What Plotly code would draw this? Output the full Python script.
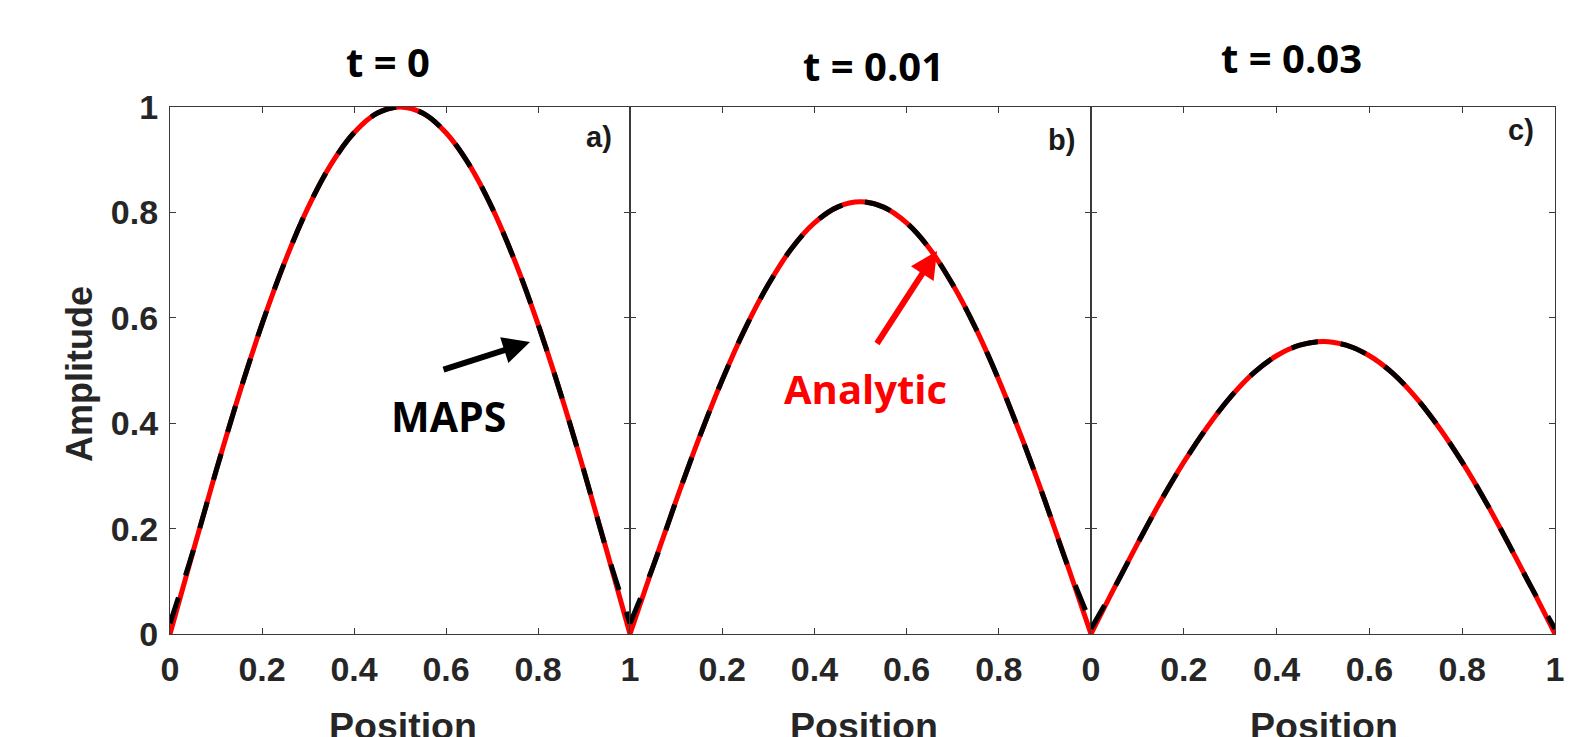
import plotly.graph_objects as go

# ---- data ----
position = [0.0, 0.05, 0.10, 0.15, 0.20, 0.25, 0.30, 0.35, 0.40, 0.45, 0.50,
            0.55, 0.60, 0.65, 0.70, 0.75, 0.80, 0.85, 0.90, 0.95, 1.0]
analytic_t0 = [0.0, 0.156, 0.309, 0.454, 0.588, 0.707, 0.809, 0.891, 0.951, 0.988, 1.0,
               0.988, 0.951, 0.891, 0.809, 0.707, 0.588, 0.454, 0.309, 0.156, 0.0]
maps_t0 = [0.02, 0.157, 0.309, 0.454, 0.588, 0.707, 0.809, 0.891, 0.951, 0.988, 1.0,
           0.988, 0.951, 0.891, 0.809, 0.707, 0.588, 0.454, 0.309, 0.156, 0.02]
analytic_t001 = [0.0, 0.128, 0.253, 0.372, 0.482, 0.580, 0.663, 0.731, 0.780, 0.810, 0.820,
                 0.810, 0.780, 0.731, 0.663, 0.580, 0.482, 0.372, 0.253, 0.128, 0.0]
maps_t001 = [0.02, 0.128, 0.253, 0.372, 0.482, 0.580, 0.663, 0.731, 0.780, 0.810, 0.820,
             0.810, 0.780, 0.731, 0.663, 0.580, 0.482, 0.372, 0.253, 0.128, 0.02]
analytic_t003 = [0.0, 0.087, 0.171, 0.252, 0.326, 0.392, 0.449, 0.495, 0.528, 0.548, 0.555,
                 0.548, 0.528, 0.495, 0.449, 0.392, 0.326, 0.252, 0.171, 0.087, 0.0]
maps_t003 = [0.01, 0.087, 0.171, 0.252, 0.326, 0.392, 0.449, 0.495, 0.528, 0.548, 0.555,
             0.548, 0.528, 0.495, 0.449, 0.392, 0.326, 0.252, 0.171, 0.087, 0.01]

panel_titles = ["t = 0", "t = 0.01", "t = 0.03"]
panel_tags = ["a)", "b)", "c)"]
x_ticks_full = [0, 0.2, 0.4, 0.6, 0.8, 1]
x_ticks_mid = [0.2, 0.4, 0.6, 0.8]
y_ticks = [0, 0.2, 0.4, 0.6, 0.8, 1]

# ---- layout geometry (page body adds an 8px offset) ----
OFF = 8
W, H = 1575 - OFF, 737 - OFF
# target plot area in screen pixels
SL, SR, ST, SB = 170, 1555, 107, 634
ML, MT = SL - OFF, ST - OFF
MR = W - (SR - OFF)
MB = H - (SB - OFF)
PW = SR - SL
PH = SB - ST
edges = [170, 630, 1091, 1555]
domains = [[(edges[i] - SL) / PW, (edges[i + 1] - SL) / PW] for i in range(3)]
domains[-1][1] = 1.0

def px2paper(px, py):
    return (px - SL) / PW, (SB - py) / PH

fig = go.Figure()
series = [(analytic_t0, maps_t0), (analytic_t001, maps_t001), (analytic_t003, maps_t003)]
for i, (an, mp) in enumerate(series):
    xa = "x" if i == 0 else f"x{i+1}"
    ya = "y" if i == 0 else f"y{i+1}"
    fig.add_trace(go.Scatter(x=position, y=an, mode="lines", xaxis=xa, yaxis=ya,
                             line=dict(color="#ff0000", width=5, shape="spline"),
                             showlegend=False, name="Analytic"))
    fig.add_trace(go.Scatter(x=position, y=mp, mode="lines", xaxis=xa, yaxis=ya,
                             line=dict(color="#000000", width=5, dash="27px,23px", shape="spline"),
                             showlegend=False, name="MAPS"))

tickfont = dict(family="Liberation Sans, Arial, sans-serif", size=34, color="#262626", weight="bold")
axis_common = dict(range=[0, 1], showline=True, linecolor="#3a3a3a", linewidth=1.3, mirror="ticks",
                   ticks="inside", ticklen=6, tickcolor="#3a3a3a", tickwidth=1, automargin=False,
                   showgrid=False, zeroline=False, tickfont=tickfont, fixedrange=True)

for i in range(3):
    sfx = "" if i == 0 else str(i + 1)
    tv = x_ticks_mid if i == 1 else x_ticks_full
    fig.update_layout(**{
        f"xaxis{sfx}": dict(axis_common, domain=domains[i], anchor=f"y{sfx}",
                            tickvals=x_ticks_full, ticktext=[(f"{v:g}" if v in tv else "") for v in x_ticks_full],
                            ticklabelstandoff=5),
        f"yaxis{sfx}": dict(axis_common, domain=[0, 1], anchor=f"x{sfx}",
                            tickvals=y_ticks, ticktext=[f"{v:g}" for v in y_ticks],
                            showticklabels=(i == 0), ticklabelstandoff=4),
    })

ann = []
title_pos = [(388, 62), (873, 65), (1291, 58)]
for t, (px, py) in zip(panel_titles, title_pos):
    x, y = px2paper(px, py)
    ann.append(dict(text=t, x=x, y=y, xref="paper", yref="paper", showarrow=False,
                    xanchor="center", yanchor="middle",
                    font=dict(family="Open Sans, Lato, sans-serif", size=40, color="black", weight="bold")))
tag_pos = [(599, 137), (1061, 140), (1521, 130)]
for t, (px, py) in zip(panel_tags, tag_pos):
    x, y = px2paper(px, py)
    ann.append(dict(text=t, x=x, y=y, xref="paper", yref="paper", showarrow=False,
                    xanchor="center", yanchor="middle",
                    font=dict(family="Liberation Sans, Arial, sans-serif", size=29, color="#1a1a1a", weight="bold")))
for px in [403, 864, 1324]:
    x, y = px2paper(px, 703)
    ann.append(dict(text="Position", x=x, y=y, xref="paper", yref="paper", showarrow=False,
                    xanchor="center", yanchor="top",
                    font=dict(family="Liberation Sans, Arial, sans-serif", size=37.5, color="#262626", weight="bold")))
x, y = px2paper(79, 374)
ann.append(dict(text="Amplitude", x=x, y=y, xref="paper", yref="paper", showarrow=False, textangle=-90,
                xanchor="center", yanchor="middle",
                font=dict(family="Liberation Sans, Arial, sans-serif", size=36, color="#262626", weight="bold")))

# MAPS label and arrow
x, y = px2paper(448, 416)
ann.append(dict(text="MAPS", x=x, y=y, xref="paper", yref="paper", showarrow=False,
                xanchor="center", yanchor="middle",
                font=dict(family="Open Sans, Lato, sans-serif", size=41, color="black", weight="bold")))
hx, hy = px2paper(530, 342)
ann.append(dict(text="", x=hx, y=hy, xref="paper", yref="paper", showarrow=True,
                ax=-88, ay=28, arrowhead=2, arrowsize=0.9, arrowwidth=6, arrowcolor="black"))
# Analytic label and arrow
x, y = px2paper(865, 388)
ann.append(dict(text="Analytic", x=x, y=y, xref="paper", yref="paper", showarrow=False,
                xanchor="center", yanchor="middle",
                font=dict(family="Open Sans, Lato, sans-serif", size=40, color="#ff0000", weight="bold")))
hx, hy = px2paper(937, 251)
ann.append(dict(text="", x=hx, y=hy, xref="paper", yref="paper", showarrow=True,
                ax=-61, ay=94, arrowhead=2, arrowsize=0.9, arrowwidth=6, arrowcolor="#ff0000"))

fig.update_layout(width=W, height=H, margin=dict(l=ML, r=MR, t=MT, b=MB, autoexpand=False),
                  plot_bgcolor="white", paper_bgcolor="white", annotations=ann)

fig.write_html("out.html")
